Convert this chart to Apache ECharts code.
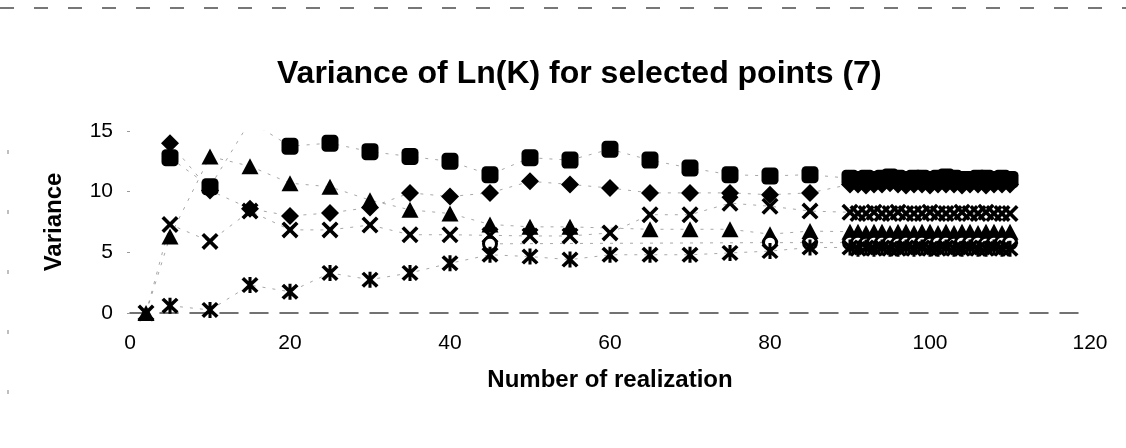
<!DOCTYPE html>
<html>
<head>
<meta charset="utf-8">
<script src="https://cdn.jsdelivr.net/npm/echarts@6/dist/echarts.min.js"></script>
<style>
  html, body { margin: 0; padding: 0; background: #fff; }
  #chart { width: 1126px; height: 448px; }
</style>
</head>
<body>
<div id="chart"></div>
<script>
// Number of realizations at which the variance was evaluated
const realizations = [2, 5, 10, 15, 20, 25, 30, 35, 40, 45, 50, 55, 60, 65, 70, 75, 80, 85,
  90, 91, 92, 93, 94, 95, 96, 97, 98, 99, 100, 101, 102, 103, 104, 105, 106, 107, 108, 109, 110];

// Variance of Ln(K) at each selected point (null = no value)
const pointDiamond = [null, 14.0, 10.1, 8.6, 8.0, 8.25, 8.7, 9.9, 9.6, 9.9, 10.85, 10.6, 10.3, 9.9, 9.9, 9.9, 9.75, 9.9,
  10.6, 10.6, 10.5, 10.6, 10.6, 10.7, 10.6, 10.5, 10.6, 10.6, 10.5, 10.6, 10.6, 10.6, 10.5, 10.6, 10.6, 10.5, 10.6, 10.6, 10.6];
const pointSquare = [null, 12.8, 10.4, 15.8, 13.75, 14.0, 13.3, 12.9, 12.5, 11.4, 12.8, 12.6, 13.5, 12.6, 11.95, 11.4, 11.3, 11.4,
  11.1, 11.0, 11.1, 11.0, 11.1, 11.2, 11.1, 11.0, 11.1, 11.1, 11.0, 11.1, 11.2, 11.1, 11.0, 11.0, 11.1, 11.1, 11.0, 11.1, 11.0];
const pointTriangle = [0.0, 6.3, 12.9, 12.1, 10.7, 10.4, 9.3, 8.5, 8.2, 7.3, 7.1, 7.1, null, 6.9, 6.9, 6.9, 6.5, 6.75,
  6.7, 6.7, 6.6, 6.7, 6.7, 6.6, 6.7, 6.7, 6.6, 6.7, 6.7, 6.6, 6.7, 6.6, 6.7, 6.7, 6.6, 6.7, 6.7, 6.6, 6.7];
const pointCross = [0.0, 7.3, 5.9, 8.4, 6.85, 6.85, 7.25, 6.45, 6.45, 6.4, 6.35, 6.35, 6.6, 8.1, 8.1, 9.05, 8.8, 8.4,
  8.3, 8.2, 8.2, 8.3, 8.2, 8.2, 8.3, 8.2, 8.2, 8.2, 8.3, 8.2, 8.2, 8.2, 8.3, 8.2, 8.2, 8.3, 8.2, 8.2, 8.2];
const pointCircle = [null, null, null, null, null, null, null, null, null, 5.7, null, null, null, null, null, null, 5.8, 5.8,
  5.8, 5.8, 5.7, 5.8, 5.8, 5.8, 5.7, 5.8, 5.8, 5.8, 5.7, 5.8, 5.8, 5.7, 5.8, 5.8, 5.8, 5.7, 5.8, 5.8, 5.8];
const pointStar = [null, 0.6, 0.25, 2.3, 1.75, 3.3, 2.75, 3.3, 4.1, 4.8, 4.65, 4.4, 4.8, 4.8, 4.8, 4.95, 5.1, 5.4,
  5.4, 5.3, 5.4, 5.3, 5.4, 5.3, 5.3, 5.4, 5.3, 5.4, 5.3, 5.3, 5.4, 5.3, 5.3, 5.4, 5.3, 5.3, 5.4, 5.3, 5.3];

// Axis ticks
const xTicks = { min: 0, max: 120, step: 20 };
const yTicks = { min: 0, max: 15, step: 5 };

const FONT = '"Liberation Sans", Arial, Helvetica, sans-serif';

// Marker outlines
const CROSS = 'path://M0,3 L3,0 L10,7 L17,0 L20,3 L13,10 L20,17 L17,20 L10,13 L3,20 L0,17 L7,10 Z';
const STAR = 'path://M0,3 L3,0 L10,7 L17,0 L20,3 L13,10 L20,17 L17,20 L10,13 L3,20 L0,17 L7,10 Z M8.2,0 L11.8,0 L11.8,20 L8.2,20 Z';

function pairs(values) {
  return realizations.map((x, i) => [x, values[i]]);
}

function makeSeries(name, values, symbol, size, style) {
  return {
    name: name,
    type: 'line',
    data: pairs(values),
    symbol: symbol,
    symbolSize: size,
    showAllSymbol: true,
    connectNulls: true,
    clip: true,
    itemStyle: Object.assign({ color: '#000', opacity: 1 }, style || {}),
    lineStyle: { color: '#8a8a8a', width: 1, type: [3, 7], opacity: 0.75 },
    emphasis: { disabled: true },
    animation: false
  };
}

const chart = echarts.init(document.getElementById('chart'), null, { renderer: 'canvas' });

chart.setOption({
  backgroundColor: '#fff',
  animation: false,
  title: {
    text: 'Variance of Ln(K) for selected points (7)',
    left: 272,
    top: 53,
    textStyle: { fontFamily: FONT, fontSize: 32, fontWeight: 'bold', color: '#000' }
  },
  grid: { left: 130, right: 36, top: 131, bottom: 135, containLabel: false },
  xAxis: {
    type: 'value',
    min: xTicks.min,
    max: xTicks.max,
    interval: xTicks.step,
    name: 'Number of realization',
    nameLocation: 'middle',
    nameGap: 55,
    nameTextStyle: { fontFamily: FONT, fontSize: 24, fontWeight: 'bold', color: '#000' },
    axisLine: { show: true, lineStyle: { color: '#444', width: 1.5, type: [18, 12] } },
    axisTick: { show: false },
    splitLine: { show: false },
    axisLabel: { fontFamily: FONT, fontSize: 21, color: '#000', margin: 20 }
  },
  yAxis: {
    type: 'value',
    min: yTicks.min,
    max: yTicks.max,
    interval: yTicks.step,
    name: 'Variance',
    nameLocation: 'middle',
    nameRotate: 90,
    nameGap: 64,
    nameTextStyle: { fontFamily: FONT, fontSize: 24, fontWeight: 'bold', color: '#000' },
    axisLine: { show: false },
    axisTick: { show: true, length: 3, lineStyle: { color: '#999' } },
    splitLine: { show: false },
    axisLabel: { fontFamily: FONT, fontSize: 21, color: '#000', margin: 17 }
  },
  graphic: [
    {
      type: 'line',
      shape: { x1: 0, y1: 8, x2: 1126, y2: 8 },
      style: { stroke: '#777', lineWidth: 2, lineDash: [14, 20] },
      silent: true
    },
    {
      type: 'line',
      shape: { x1: 8, y1: 150, x2: 8, y2: 448 },
      style: { stroke: '#aaa', lineWidth: 1.5, lineDash: [4, 56] },
      silent: true
    }
  ],
  series: [
    makeSeries('Point 1', pointDiamond, 'diamond', [18, 18]),
    makeSeries('Point 2', pointSquare, 'roundRect', [17, 17]),
    makeSeries('Point 3', pointTriangle, 'triangle', [17, 16]),
    makeSeries('Point 4', pointCross, CROSS, [17, 17]),
    makeSeries('Point 6', pointCircle, 'circle', [13, 13], { color: '#fff', borderColor: '#000', borderWidth: 3 }),
    makeSeries('Point 5', pointStar, STAR, [17, 16])
  ]
});
</script>
</body>
</html>
